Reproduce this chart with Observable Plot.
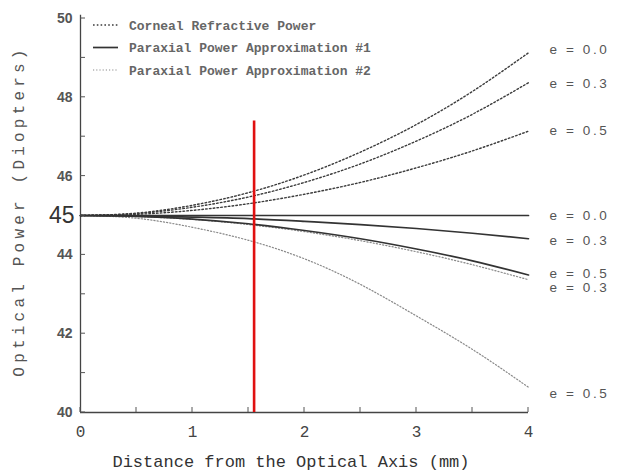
<!DOCTYPE html>
<html><head><meta charset="utf-8">
<script src="https://cdn.jsdelivr.net/npm/d3@7"></script>
<script src="https://cdn.jsdelivr.net/npm/@observablehq/plot@0.6"></script>
<style>
body{margin:0;background:#fff;}
#wrap{position:relative;width:617px;height:474px;overflow:hidden;}
</style></head><body><div id="wrap"></div>
<script>
// ---- data ----
const distance = [0, 0.5, 1, 1.5, 2, 2.5, 3, 3.5, 4];
const eccentricities = ["0.0", "0.3", "0.5"];
// Corneal refractive power
const cornealE00 = [45, 45.06, 45.26, 45.58, 46.03, 46.61, 47.31, 48.15, 49.13];
const cornealE03 = [45, 45.05, 45.21, 45.47, 45.84, 46.31, 46.89, 47.57, 48.37];
const cornealE05 = [45, 45.03, 45.13, 45.30, 45.54, 45.84, 46.21, 46.64, 47.14];
// Paraxial power approximation #1
const parax1E00 = [45, 45, 45, 45, 45, 45, 45, 45, 45];
const parax1E03 = [45, 44.99, 44.96, 44.92, 44.85, 44.77, 44.67, 44.55, 44.41];
const parax1E05 = [45, 44.98, 44.91, 44.79, 44.62, 44.41, 44.15, 43.85, 43.49];
// Paraxial power approximation #2
const parax2E00 = [45, 45, 45, 45, 45, 45, 45, 45, 45];
const parax2E03 = [45, 44.97, 44.90, 44.77, 44.59, 44.36, 44.08, 43.75, 43.37];
const parax2E05 = [45, 44.93, 44.70, 44.37, 43.90, 43.25, 42.45, 41.60, 40.64];

const seriesNames = ["Corneal Refractive Power", "Paraxial Power Approximation #1", "Paraxial Power Approximation #2"];
const endLabels = ["e = 0.0", "e = 0.3", "e = 0.5", "e = 0.0", "e = 0.3", "e = 0.5", "e = 0.3", "e = 0.5"];
const endLabelY = [49.2, 48.35, 47.15, 45.0, 44.36, 43.53, 43.16, 40.48];
const yMajorTicks = [40, 42, 44, 46, 48, 50];
const yMinorTicks = [41, 43, 45, 47, 49];
const xMajorTicks = [0, 1, 2, 3, 4];
const xMinorTicks = [0.5, 1.5, 2.5, 3.5];
const highlightLabel = 45;
const markerDistance = 1.55;
const markerTop = 47.4;
const xTitle = "Distance from the Optical Axis (mm)";
const yTitle = "Optical Power (Diopters)";

// ---- build table ----
const seriesValues = [
  [cornealE00, cornealE03, cornealE05],
  [parax1E00, parax1E03, parax1E05],
  [parax2E00, parax2E03, parax2E05]
];
const rows = [];
seriesNames.forEach((s, si) => {
  eccentricities.forEach((e, ei) => {
    seriesValues[si][ei].forEach((v, i) => rows.push({series: s, e, x: distance[i], y: v}));
  });
});
const styles = {
  "Corneal Refractive Power": {stroke: "#3c3c3c", strokeWidth: 1.4, strokeDasharray: "1.6,2.2"},
  "Paraxial Power Approximation #1": {stroke: "#333", strokeWidth: 1.7, strokeDasharray: null},
  "Paraxial Power Approximation #2": {stroke: "#8a8a8a", strokeWidth: 1.2, strokeDasharray: "1.2,2"}
};
const drawOrder = [seriesNames[2], seriesNames[0], seriesNames[1]];
const tickColor = "#555";
const xMax = 4, xMin = 0, yMin = 40, yMax = 50;

const lineMarks = drawOrder.map(s => Plot.line(rows.filter(r => r.series === s), {
  x: "x", y: "y", z: "e", curve: "natural",
  stroke: styles[s].stroke, strokeWidth: styles[s].strokeWidth,
  strokeDasharray: styles[s].strokeDasharray
}));

const chart = Plot.plot({
  width: 617, height: 474,
  marginLeft: 80, marginRight: 89, marginTop: 18, marginBottom: 62,
  style: {background: "#fff", overflow: "visible"},
  x: {type: "linear", domain: [xMin, xMax]},
  y: {type: "linear", domain: [yMin, yMax]},
  marks: [
    // spines
    Plot.ruleX([xMin], {y1: yMin, y2: yMax + 0.08, stroke: "#444", strokeWidth: 1.3}),
    Plot.ruleY([yMin], {x1: xMin, x2: xMax, stroke: "#444", strokeWidth: 1.3}),
    // axes labels
    Plot.axisY({ticks: yMajorTicks, tickSize: 0, tickPadding: 8, fontSize: 14, fontWeight: "bold",
      fill: tickColor, fontFamily: "Liberation Sans, Arial, sans-serif", label: null}),
    Plot.axisX({ticks: xMajorTicks, tickFormat: d => String(d), tickSize: 0, tickPadding: 13, fontSize: 16,
      fill: "#444", fontFamily: "Liberation Mono, DejaVu Sans Mono, monospace", label: null}),
    Plot.text([highlightLabel], {x: () => xMin, y: d => d, text: d => String(d), dx: -6, textAnchor: "end",
      fontSize: 23, fill: "#333", fontFamily: "Liberation Sans, Arial, sans-serif"}),
    ...lineMarks,
    Plot.ruleX([markerDistance], {y1: yMin, y2: markerTop, stroke: "#e01010", strokeWidth: 2.6}),
    Plot.text(endLabels, {x: () => xMax, y: (d, i) => endLabelY[i], text: d => d, dx: 21, textAnchor: "start",
      fontSize: 13.5, fill: "#555", fontFamily: "Liberation Sans, Arial, sans-serif"})
  ]
});
document.getElementById("wrap").appendChild(chart);

const xs = chart.scale("x"), ys = chart.scale("y");
const svg = d3.select(chart);
// end labels letter spacing
svg.selectAll("text").filter(function(){ return endLabels.includes(this.textContent); }).attr("letter-spacing", "2.6px");
// inward tick marks positioned through the chart's scales
const tg = svg.append("g").attr("stroke", "#555").attr("stroke-width", 1);
yMajorTicks.concat(yMinorTicks).forEach(v => {
  const py = ys.apply(v);
  tg.append("line").attr("x1", xs.apply(xMin)).attr("x2", xs.apply(xMin) + 5).attr("y1", py).attr("y2", py);
});
xMajorTicks.concat(xMinorTicks).forEach(v => {
  const px = xs.apply(v);
  tg.append("line").attr("x1", px).attr("x2", px).attr("y1", ys.apply(yMin)).attr("y2", ys.apply(yMin) - 5);
});
// axis titles
const cx = (xs.apply(xMin) + xs.apply(xMax)) / 2;
svg.append("text").attr("x", cx - 13).attr("y", 467).attr("text-anchor", "middle")
  .attr("font-family", "Liberation Mono, DejaVu Sans Mono, monospace").attr("font-size", 17)
  .attr("fill", "#333").text(xTitle);
const cy = (ys.apply(yMin) + ys.apply(yMax)) / 2;
svg.append("text").attr("transform", `translate(24,${cy - 4}) rotate(-90)`).attr("text-anchor", "middle")
  .attr("font-family", "Liberation Mono, DejaVu Sans Mono, monospace").attr("font-size", 16)
  .attr("letter-spacing", "4.2px").attr("fill", "#555").text(yTitle);

// legend (top-left inside the frame)
const lg = svg.append("g").attr("font-family", "Liberation Mono, DejaVu Sans Mono, monospace")
  .attr("font-size", 13).attr("font-weight", "bold").attr("fill", "#666").attr("text-anchor", "start");
seriesNames.forEach((s, i) => {
  const y = 25 + i * 22.5;
  lg.append("line").attr("x1", 93).attr("x2", 118).attr("y1", y).attr("y2", y)
    .attr("stroke", styles[s].stroke).attr("stroke-width", styles[s].strokeWidth)
    .attr("stroke-dasharray", styles[s].strokeDasharray);
  lg.append("text").attr("x", 129).attr("y", y).attr("dy", "0.35em").text(s);
});
</script></body></html>
